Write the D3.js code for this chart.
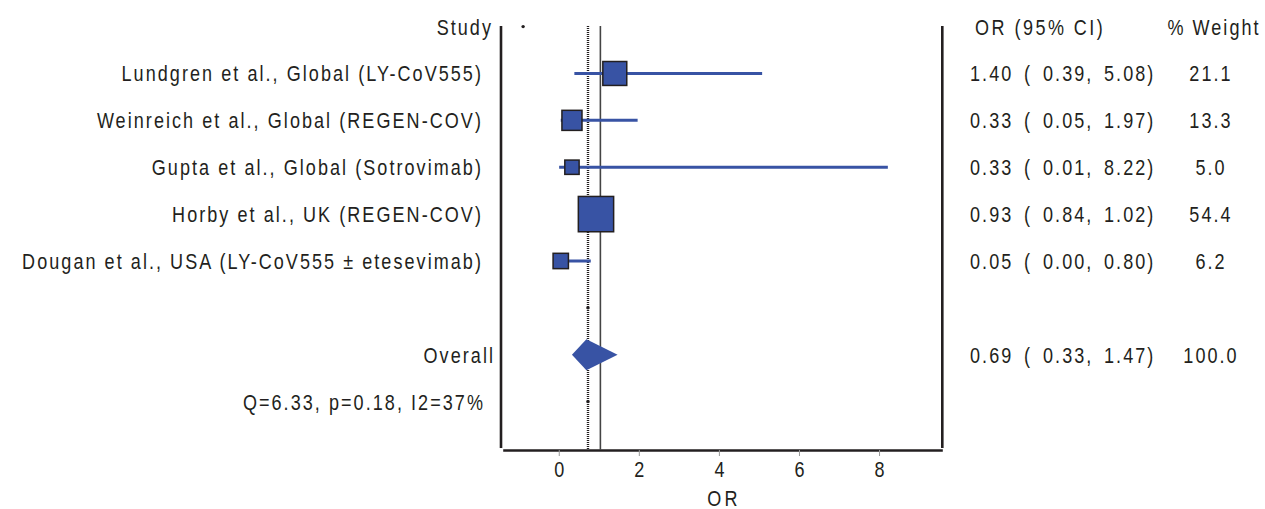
<!DOCTYPE html>
<html><head><meta charset="utf-8">
<script src="https://cdn.jsdelivr.net/npm/d3@7"></script>
<style>
html,body{margin:0;padding:0;background:#fff;}
svg text{font-family:"Liberation Sans",Arial,sans-serif;fill:#231f20;}
</style></head>
<body>
<svg id="chart" width="1265" height="509"></svg>
<script>
// ---- data ----
const studies = [
  "Lundgren et al., Global (LY-CoV555)",
  "Weinreich et al., Global (REGEN-COV)",
  "Gupta et al., Global (Sotrovimab)",
  "Horby et al., UK (REGEN-COV)",
  "Dougan et al., USA (LY-CoV555 \u00b1  etesevimab)"
];
const orValues = [1.40, 0.33, 0.33, 0.93, 0.05];
const ciLower  = [0.39, 0.05, 0.01, 0.84, 0.00];
const ciUpper  = [5.08, 1.97, 8.22, 1.02, 0.80];
const weights  = [21.1, 13.3, 5.0, 54.4, 6.2];
const overallLabel = "Overall";
const overallOR = 0.69, overallLower = 0.33, overallUpper = 1.47, overallWeight = 100.0;
const heterogeneity = "Q=6.33, p=0.18, I2=37%";
const xTicks = [0, 2, 4, 6, 8];
const headers = ["Study", "OR (95% CI)", "% Weight"];
const xTitle = "OR";

// ---- layout ----
const svg = d3.select("#chart");
const blue = "#3853a4";
const fs = 22;
const sx = 0.82;          // condensed look
const ls = "2.5px";

const x = d3.scaleLinear().domain([-1.4, 9.58]).range([502.7, 942.3]);
const y = d3.scaleLinear().domain([0, 8]).range([26.6, 401.6]); // row index -> y
const size = d3.scalePow().exponent(0.5).domain([5, 54.4]).range([14.3, 35.3]);

const plotTop = 26, plotBottom = 450;

// frame verticals
svg.append("line").attr("x1", 501).attr("x2", 501).attr("y1", plotTop).attr("y2", 448)
  .attr("stroke", "#231f20").attr("stroke-width", 2.6);
svg.append("line").attr("x1", x.range()[1]).attr("x2", x.range()[1]).attr("y1", plotTop).attr("y2", 448)
  .attr("stroke", "#231f20").attr("stroke-width", 2.6);

// x axis
const axis = d3.axisBottom(x).tickValues(xTicks).tickSize(6).tickPadding(5).tickSizeOuter(0);
const gAx = svg.append("g").attr("transform", `translate(0,${plotBottom})`).call(axis);
gAx.select(".domain").attr("stroke", "#231f20").attr("stroke-width", 2.6);
gAx.selectAll(".tick line").attr("stroke", "#999").attr("stroke-width", 1);
gAx.selectAll(".tick text").attr("font-size", fs).attr("fill", "#231f20")
  .attr("transform", `scale(${sx},1)`)
  .style("font-family", '"Liberation Sans",Arial,sans-serif');

// text helper (condensed via horizontal scale)
const t = (xx, yy, txt, anchor, spacing) => svg.append("text")
  .attr("transform", `translate(${xx},${yy}) scale(${sx},1)`)
  .attr("dy", "0.36em").attr("text-anchor", anchor).attr("font-size", fs)
  .style("letter-spacing", spacing || ls).text(txt);

t(x(4.08) + 2, 498, xTitle, "middle", "4px");

// reference lines
svg.append("line").attr("x1", x(1.04)).attr("x2", x(1.04)).attr("y1", plotTop).attr("y2", plotBottom)
  .attr("stroke", "#444").attr("stroke-width", 1.6);
svg.append("line").attr("x1", x(overallOR + 0.04)).attr("x2", x(overallOR + 0.04)).attr("y1", plotTop).attr("y2", plotBottom)
  .attr("stroke", "#231f20").attr("stroke-width", 2.4).attr("stroke-dasharray", "1,1");
// small dots
[[-0.89, 0], [overallOR + 0.04, 6], [overallOR + 0.04, 8]].forEach(d => {
  svg.append("circle").attr("cx", x(d[0])).attr("cy", y(d[1])).attr("r", 1.7).attr("fill", "#231f20");
});

// CI lines + squares
const rows = studies.map((s, i) => ({name: s, or: orValues[i], lo: ciLower[i], hi: ciUpper[i], w: weights[i], r: i + 1}));
svg.selectAll(".ci").data(rows).join("line")
  .attr("x1", d => x(d.lo)).attr("x2", d => x(d.hi))
  .attr("y1", d => y(d.r)).attr("y2", d => y(d.r))
  .attr("stroke", blue).attr("stroke-width", 3);
svg.selectAll(".sq").data(rows).join("rect")
  .attr("x", d => x(d.or) - size(d.w) / 2).attr("y", d => y(d.r) - size(d.w) / 2)
  .attr("width", d => size(d.w)).attr("height", d => size(d.w))
  .attr("fill", blue).attr("stroke", "#231f20").attr("stroke-width", 1.5);

// diamond
const yo = y(7), dh = 15.5;
svg.append("path")
  .attr("d", `M${x(overallLower)},${yo} L${x(overallOR)},${yo - dh} L${x(overallUpper)},${yo} L${x(overallOR)},${yo + dh} Z`)
  .attr("fill", blue);

// left labels
t(493, y(0), headers[0], "end");
rows.forEach(d => t(483, y(d.r), d.name, "end"));
t(495, y(7), overallLabel, "end");
t(485, y(8), heterogeneity, "end");

// right columns
t(975, y(0), headers[1], "start", "3px");
t(1214, y(0), headers[2], "middle");
const f2 = v => v.toFixed(2);
const allRows = rows.map(d => ({or: d.or, lo: d.lo, hi: d.hi, w: d.w, r: d.r}))
  .concat([{or: overallOR, lo: overallLower, hi: overallUpper, w: overallWeight, r: 7}]);
allRows.forEach(d => {
  t(970, y(d.r), f2(d.or), "start");
  t(1024, y(d.r), "(", "start");
  t(1043, y(d.r), f2(d.lo) + ",", "start");
  t(1104, y(d.r), f2(d.hi) + ")", "start");
  t(1211, y(d.r), d.w.toFixed(1), "middle");
});
</script>
</body></html>
